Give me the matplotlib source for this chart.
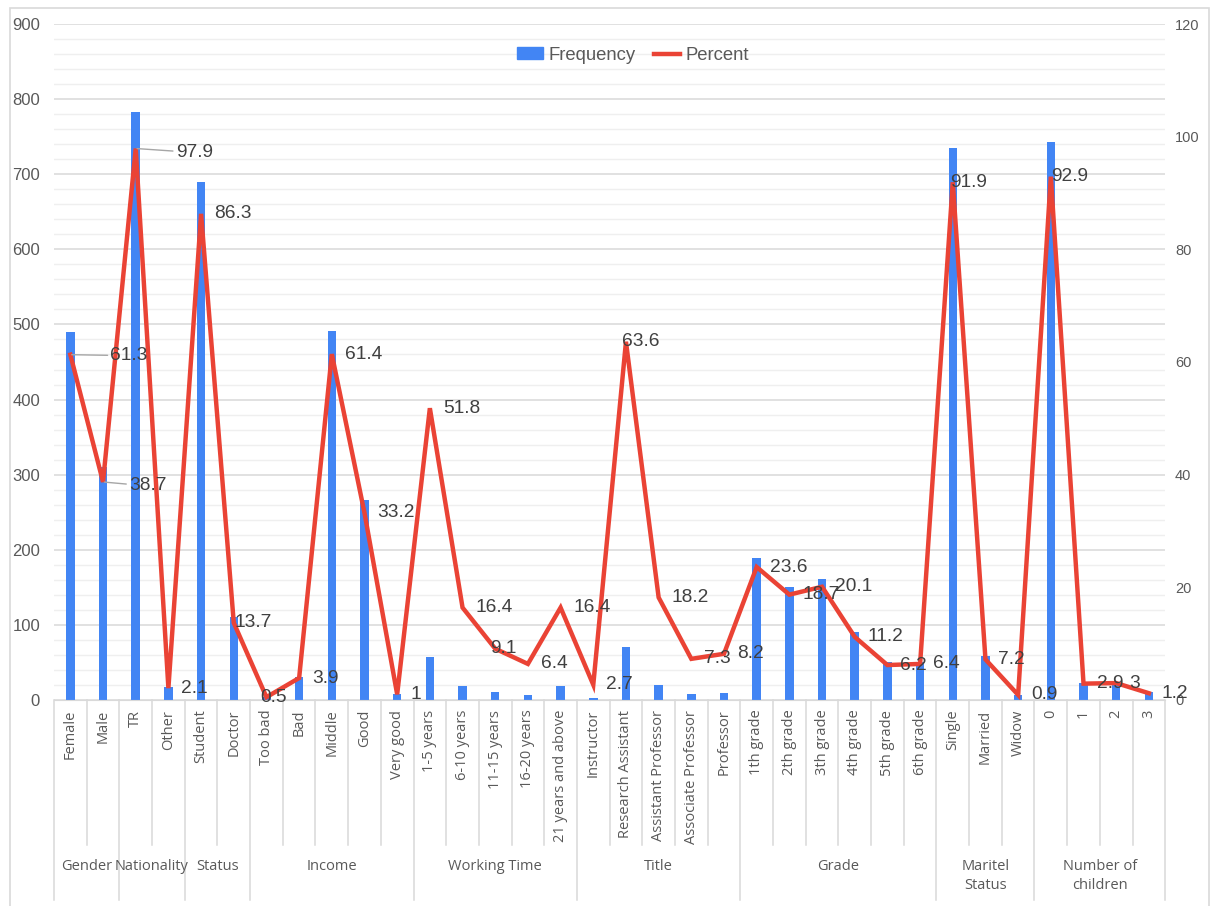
import matplotlib.pyplot as plt
from matplotlib.lines import Line2D
from matplotlib.patches import Patch, Rectangle
from matplotlib.ticker import MultipleLocator

plt.rcParams['font.family'] = ['Liberation Sans', 'DejaVu Sans']

# Data
categories = ["Female", "Male", "TR", "Other", "Student", "Doctor",
              "Too bad", "Bad", "Middle", "Good", "Very good",
              "1-5 years", "6-10 years", "11-15 years", "16-20 years", "21 years and above",
              "Instructor", "Research Assistant", "Assistant Professor", "Associate Professor", "Professor",
              "1th grade", "2th grade", "3th grade", "4th grade", "5th grade", "6th grade",
              "Single", "Married", "Widow",
              "0", "1", "2", "3"]
frequency = [490, 310, 783, 17, 690, 110,
             4, 31, 491, 266, 8,
             57, 18, 10, 7, 18,
             3, 70, 20, 8, 9,
             189, 150, 161, 90, 50, 51,
             735, 58, 7,
             743, 23, 24, 10]
percent = [61.3, 38.7, 97.9, 2.1, 86.3, 13.7,
           0.5, 3.9, 61.4, 33.2, 1,
           51.8, 16.4, 9.1, 6.4, 16.4,
           2.7, 63.6, 18.2, 7.3, 8.2,
           23.6, 18.7, 20.1, 11.2, 6.2, 6.4,
           91.9, 7.2, 0.9,
           92.9, 2.9, 3, 1.2]
groups = ["Gender", "Nationality", "Status", "Income", "Working Time", "Title",
          "Grade", "Maritel\nStatus", "Number of\nchildren"]
group_sizes = [2, 2, 2, 5, 5, 5, 6, 3, 4]

BLUE = "#4285F4"
RED = "#EA4335"
TICK = "#595959"
LABEL = "#404040"
GRID = "#d9d9d9"
CAT_FONT = ['Open Sans', 'DejaVu Sans']

fig = plt.figure(figsize=(12.11, 9.06), dpi=100)
ax = fig.add_axes([0.0446, 0.2274, 0.9176, 0.7461])
ax2 = ax.twinx()

x = list(range(len(categories)))
ax.bar(x, frequency, width=0.26, color=BLUE, zorder=2)
ax2.plot(x, percent, color=RED, lw=3.2, solid_joinstyle='miter', zorder=3)

ax.set_xlim(-0.5, len(categories) - 0.5)
ax.set_ylim(0, 900)
ax2.set_ylim(0, 120)
ax.yaxis.set_major_locator(MultipleLocator(100))
ax.yaxis.set_minor_locator(MultipleLocator(20))
ax2.yaxis.set_major_locator(MultipleLocator(20))
ax.grid(which='major', axis='y', color=GRID, lw=1.1, zorder=0)
ax.grid(which='minor', axis='y', color="#efefef", lw=1.0, zorder=0)
ax.set_axisbelow(True)

for a in (ax, ax2):
    for s in a.spines.values():
        s.set_visible(False)
ax.spines['bottom'].set_visible(True)
ax.spines['bottom'].set_color(GRID)

ax.tick_params(axis='y', which='both', length=0, labelsize=12, labelcolor=TICK, pad=10)
ax2.tick_params(axis='y', length=0, labelsize=10.5, labelcolor=TICK, pad=7)
ax.set_xticks(x)
ax.set_xticklabels(categories, rotation=90, fontsize=10.5, color=TICK, family=CAT_FONT)
ax.tick_params(axis='x', length=0, pad=7)

# data labels (offsets in pixels, right of the point)
px = 72 / 100
leader = {0: (40, -1), 1: (26, -4), 2: (40, -4)}
shifted = {5: 1, 6: -6, 13: -5, 17: -4, 27: -3, 30: 0}
for i, p in enumerate(percent):
    lbl = f"{p:g}"
    if i in leader:
        dx, dy = leader[i]
        ax2.annotate(lbl, (i, p), xytext=(dx * px, dy * px), textcoords='offset points',
                     ha='left', va='center', fontsize=13.8, color=LABEL,
                     arrowprops=dict(arrowstyle='-', color='#a6a6a6', lw=1.0,
                                     shrinkA=0, shrinkB=1), zorder=4)
    else:
        dx = shifted.get(i, 13)
        ax2.annotate(lbl, (i, p), xytext=(dx * px, 0), textcoords='offset points',
                     ha='left', va='center', fontsize=13.8, color=LABEL, zorder=4)

# multi-level category axis
tr = ax.get_xaxis_transform()
boundaries = [-0.5]
for n in group_sizes:
    boundaries.append(boundaries[-1] + n)
for b in range(len(categories) + 1):
    pos = b - 0.5
    bottom = -0.296 if pos in boundaries else -0.2145
    ax.plot([pos, pos], [0, bottom], transform=tr, color=GRID, lw=1.1, clip_on=False)
for g, lo, hi in zip(groups, boundaries[:-1], boundaries[1:]):
    ax.text((lo + hi) / 2, -0.2352, g, transform=tr, ha='center', va='top',
            fontsize=10.5, color=TICK, linespacing=1.35, family=CAT_FONT)

handles = [Patch(color=BLUE, label='Frequency'),
           Line2D([0], [0], color=RED, lw=3.2, label='Percent')]
fig.legend(handles=handles, loc='center', bbox_to_anchor=(0.523, 0.939), ncol=2,
           frameon=False, fontsize=13.3, labelcolor=TICK, handlelength=1.4,
           handleheight=0.6, handletextpad=0.3, columnspacing=1.0)

fig.patches.append(Rectangle((10 / 1211, -0.05), 1199 / 1211, 1.05 - 8 / 906,
                             transform=fig.transFigure, fill=False,
                             edgecolor=GRID, lw=1.2))

fig.savefig("out.png", dpi=100)
